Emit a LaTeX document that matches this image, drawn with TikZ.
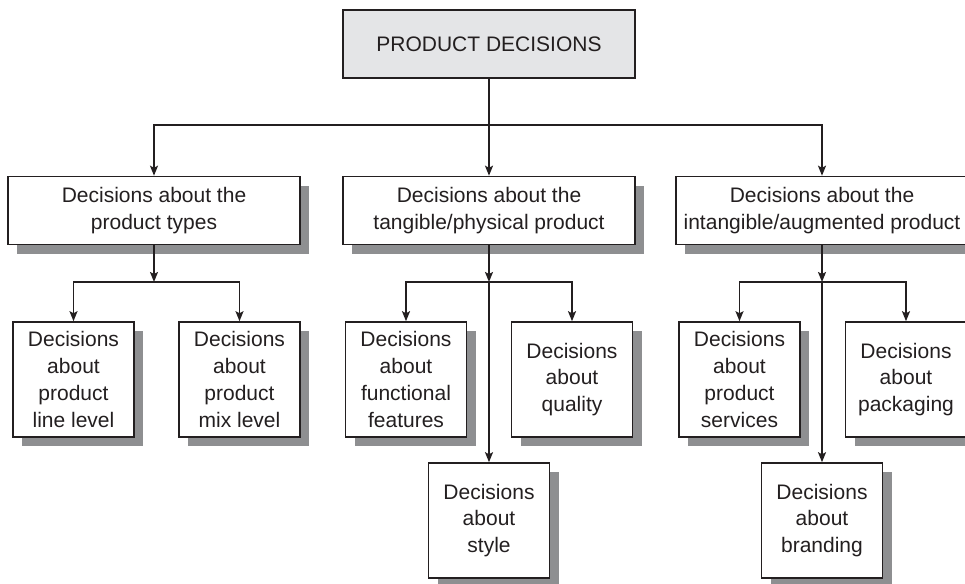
\documentclass[tikz,border=0pt]{standalone}
\usepackage{fontspec}
\setmainfont{Liberation Sans}
\usetikzlibrary{arrows.meta,shadows}

\definecolor{topgray}{RGB}{228,229,231}
\definecolor{shadegray}{RGB}{142,143,145}
\definecolor{inkgray}{RGB}{35,31,32}

\tikzset{
  rootbox/.style={draw=inkgray, line width=0.8pt, fill=topgray, text=inkgray, inner sep=0pt,
    font=\fontsize{10.5}{13.4}\selectfont, minimum width=146pt, minimum height=34pt},
  dbox/.style={draw=inkgray, line width=0.8pt, fill=white, text=inkgray, align=center, inner sep=0pt,
    font=\fontsize{10.5}{13.4}\selectfont,
    drop shadow={shadow xshift=4.5pt, shadow yshift=-4.5pt, fill=shadegray, opacity=1}},
  headbox/.style={dbox, minimum width=146pt, minimum height=34pt},
  leafbox/.style={dbox, minimum width=60.5pt, minimum height=57.5pt},
  arr/.style={draw=inkgray, line width=0.8pt, -{Stealth[length=5pt,width=4pt,inset=1pt]}},
}

\begin{document}
\begin{tikzpicture}[x=0.5pt,y=-0.5pt]
\useasboundingbox (0,0) rectangle (965,584);

\node[rootbox] (prod) at (489,44) {PRODUCT DECISIONS}; % top level

\node[headbox] (types) at (154,210.5) {Decisions about the\\product types};
\node[headbox] (tangible) at (489,210.5) {Decisions about the\\tangible/physical product};
\node[headbox] (intangible) at (822,210.5) {Decisions about the\\intangible/augmented product};

\node[leafbox] (linelevel) at (73.5,379.5) {Decisions\\about\\product\\line level};
\node[leafbox] (mixlevel) at (239.5,379.5) {Decisions\\about\\product\\mix level};
\node[leafbox] (functional) at (406,379.5) {Decisions\\about\\functional\\features};
\node[leafbox] (quality) at (572,379.5) {Decisions\\about\\quality};
\node[leafbox] (style) at (489,520.5) {Decisions\\about\\style};
\node[leafbox] (services) at (739.5,379.5) {Decisions\\about\\product\\services};
\node[leafbox] (packaging) at (906,379.5) {Decisions\\about\\packaging};
\node[leafbox] (branding) at (822,520.5) {Decisions\\about\\branding};

\coordinate (j0) at (489,125); % branch under the top box
\coordinate (j1) at (154,282);
\coordinate (j2) at (489,282);
\coordinate (j3) at (822,282);

\draw[arr] (prod) -- (tangible);
\draw[arr] (j0) -| (types);
\draw[arr] (j0) -| (intangible);

\draw[arr] (types) -- (j1);
\draw[arr] (j1) -| (linelevel);
\draw[arr] (j1) -| (mixlevel);

\draw[arr] (tangible) -- (j2);
\draw[arr] (j2) -| (functional);
\draw[arr] (j2) -| (quality);
\draw[arr] (j2) -- (style);

\draw[arr] (intangible) -- (j3);
\draw[arr] (j3) -| (services);
\draw[arr] (j3) -| (packaging);
\draw[arr] (j3) -- (branding);
\end{tikzpicture}
\end{document}
